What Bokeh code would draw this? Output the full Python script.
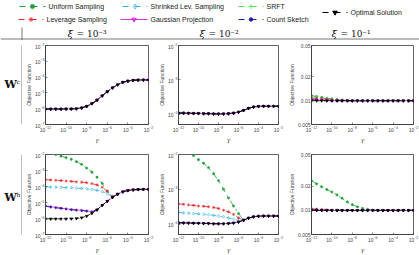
from bokeh.plotting import figure
from bokeh.layouts import column, row
from bokeh.models import Range1d, FixedTicker, CustomJSTickFormatter
from bokeh.core.properties import value
from bokeh.embed import file_html
from bokeh.resources import INLINE

# regularisation parameter gamma (x axis, log scale)
gamma = [1e-12, 3.2e-12, 1e-11, 3.2e-11, 1e-10, 3.2e-10, 1e-9, 3.2e-9, 1e-8, 3.2e-8,
         1e-7, 3.2e-7, 1e-6, 3.2e-6, 1e-5, 3.2e-5, 1e-4, 3.2e-4, 1e-3, 3.2e-3, 1e-2]
x_ticks = [1e-12, 1e-10, 1e-8, 1e-6, 1e-4, 1e-2]
col_titles = ["10⁻³", "10⁻²", "10⁻¹"]
row_titles = ["c", "h"]

# optimal objective value for each xi
opt_xi3 = [9.5e-7, 9.5e-7, 9.5e-7, 9.5e-7, 9.6e-7, 9.7e-7, 1.0e-6, 1.12e-6, 1.41e-6, 2.1e-6,
           3.5e-6, 6.6e-6, 1.2e-5, 2.1e-5, 3.3e-5, 4.7e-5, 5.6e-5, 6.2e-5, 6.5e-5, 6.6e-5, 6.6e-5]
opt_xi2 = [1.07e-4, 1.07e-4, 1.06e-4, 1.05e-4, 1.05e-4, 1.035e-4, 1.035e-4, 1.02e-4, 1.02e-4, 1.02e-4,
           1.035e-4, 1.07e-4, 1.15e-4, 1.29e-4, 1.48e-4, 1.62e-4, 1.68e-4, 1.7e-4, 1.7e-4, 1.7e-4, 1.7e-4]
opt_xi1 = [0.0100] * 21

# W^c, xi = 1e-2 / 1e-1 (xi = 1e-3 coincides with the optimum)
c2_uniform = [1.12e-4, 1.1e-4, 1.08e-4, 1.06e-4] + opt_xi2[4:]
c2_srft = [1.1e-4, 1.09e-4, 1.07e-4, 1.055e-4] + opt_xi2[4:]
c1_uniform = [0.0116, 0.0113, 0.0110, 0.0107, 0.0105, 0.0103, 0.0102, 0.0101] + opt_xi1[8:]
c1_srft = [0.0113, 0.0111, 0.0108, 0.0105, 0.0103, 0.0102, 0.0101] + opt_xi1[7:]
c1_leverage = [0.0108, 0.0107, 0.0106, 0.0104, 0.0103, 0.0102, 0.0101] + opt_xi1[7:]
c1_shrinked = [0.0105, 0.0104, 0.0103, 0.0102, 0.0101] + opt_xi1[5:]
c1_gaussian = [0.0103, 0.0102, 0.0102, 0.0101] + opt_xi1[4:]
c1_count = [0.0102, 0.0102, 0.0101] + opt_xi1[3:]

# W^h, xi = 1e-3
h3_uniform = [1.78e-2, 1.32e-2, 1.0e-2, 7.9e-3, 6.3e-3, 5.0e-3, 3.55e-3, 2.4e-3, 1.41e-3, 7.9e-4,
              3.8e-4, 1.58e-4, 5.0e-5, 2.1e-5] + opt_xi3[14:]
h3_leverage = [2.7e-4, 2.57e-4, 2.45e-4, 2.34e-4, 2.19e-4, 2.09e-4, 1.95e-4, 1.86e-4, 1.74e-4, 1.51e-4,
               1.26e-4, 8.9e-5, 5.0e-5, 2.4e-5] + opt_xi3[14:]
h3_shrinked = [9.5e-5, 9.3e-5, 9.1e-5, 8.9e-5, 8.5e-5, 8.3e-5, 7.9e-5, 7.6e-5, 7.1e-5, 6.5e-5,
               5.75e-5, 4.8e-5, 3.55e-5, 2.24e-5] + opt_xi3[14:]
h3_gaussian = [6.0e-6, 5.4e-6, 4.8e-6, 4.4e-6, 4.0e-6, 3.6e-6, 3.4e-6, 3.2e-6, 2.95e-6, 2.65e-6] + opt_xi3[10:]
h3_count = [5.8e-6, 5.2e-6, 4.7e-6, 4.3e-6, 3.9e-6, 3.55e-6, 3.3e-6, 3.1e-6, 2.9e-6, 2.6e-6] + opt_xi3[10:]
h3_srft = [6.1e-6, 5.5e-6, 4.9e-6, 4.45e-6, 4.05e-6, 3.65e-6, 3.45e-6, 3.25e-6, 3.0e-6, 2.7e-6] + opt_xi3[10:]

# W^h, xi = 1e-2
h2_uniform = [2.5e-2, 1.78e-2, 1.26e-2, 9.3e-3, 7.1e-3, 5.6e-3, 4.2e-3, 2.8e-3, 1.78e-3, 1.0e-3,
              5.6e-4, 3.3e-4, 2.0e-4, 1.3e-4] + opt_xi2[14:]
h2_leverage = [3.8e-4, 3.7e-4, 3.55e-4, 3.45e-4, 3.3e-4, 3.25e-4, 3.15e-4, 3.0e-4, 2.8e-4, 2.5e-4,
               2.25e-4, 1.9e-4, 1.5e-4, 1.29e-4] + opt_xi2[14:]
h2_shrinked = [2.15e-4, 2.1e-4, 2.05e-4, 2.0e-4, 1.95e-4, 1.9e-4, 1.85e-4, 1.78e-4, 1.7e-4, 1.62e-4,
               1.5e-4, 1.38e-4, 1.26e-4, 1.29e-4] + opt_xi2[14:]
h2_gaussian = [1.1e-4, 1.09e-4, 1.08e-4, 1.07e-4, 1.06e-4, 1.05e-4, 1.04e-4] + opt_xi2[7:]
h2_count = [1.09e-4, 1.08e-4, 1.07e-4, 1.06e-4, 1.05e-4, 1.04e-4] + opt_xi2[6:]
h2_srft = [1.11e-4, 1.1e-4, 1.09e-4, 1.08e-4, 1.07e-4, 1.05e-4, 1.04e-4] + opt_xi2[7:]

# W^h, xi = 1e-1
h1_uniform = [0.0235, 0.0215, 0.0197, 0.0182, 0.0170, 0.0156, 0.0142, 0.0128, 0.0118, 0.0111,
              0.0106, 0.0103, 0.0101] + opt_xi1[13:]
h1_leverage = [0.0105, 0.0104, 0.0103, 0.0102, 0.0101, 0.0101] + opt_xi1[6:]
h1_shrinked = [0.0102, 0.0101, 0.0101] + opt_xi1[3:]
h1_gaussian = [0.0101, 0.0101] + opt_xi1[2:]

# method name -> (colour, dash, marker, marker size, filled)
methods = {
    "Uniform Sampling": ("#1f9e3c", "dashdot", "circle", 2.2, True),
    "Shrinked Lev. Sampling": ("#2cb4e6", "dashdot", "diamond", 3, False),
    "SRFT": ("#4ee04e", "dashed", "cross", 3, False),
    "Leverage Sampling": ("#e0242a", "dashed", "asterisk", 3, False),
    "Gaussian Projection": ("#e030e0", "solid", "inverted_triangle", 2.6, True),
    "Count Sketch": ("#1c1ca8", "dashed", "circle", 1.6, True),
    "Optimal Solution": ("#000000", "4 2", "inverted_triangle", 2.8, True),
}

panels = [
    # (row, col, y range, y ticks, series)
    (0, 0, (1e-7, 1e-2), [1e-7, 1e-6, 1e-5, 1e-4, 1e-3, 1e-2],
     {m: opt_xi3 for m in methods}),
    (0, 1, (5e-5, 1e-2), [1e-4, 1e-3, 1e-2],
     {"Uniform Sampling": c2_uniform, "Shrinked Lev. Sampling": opt_xi2, "SRFT": c2_srft,
      "Leverage Sampling": opt_xi2, "Gaussian Projection": opt_xi2, "Count Sketch": opt_xi2,
      "Optimal Solution": opt_xi2}),
    (0, 2, (0.005, 0.05), [0.005, 0.01, 0.02, 0.05],
     {"Uniform Sampling": c1_uniform, "Shrinked Lev. Sampling": c1_shrinked, "SRFT": c1_srft,
      "Leverage Sampling": c1_leverage, "Gaussian Projection": c1_gaussian, "Count Sketch": c1_count,
      "Optimal Solution": opt_xi1}),
    (1, 0, (1e-7, 1e-2), [1e-7, 1e-6, 1e-5, 1e-4, 1e-3, 1e-2],
     {"Uniform Sampling": h3_uniform, "Shrinked Lev. Sampling": h3_shrinked, "SRFT": h3_srft,
      "Leverage Sampling": h3_leverage, "Gaussian Projection": h3_gaussian, "Count Sketch": h3_count,
      "Optimal Solution": opt_xi3}),
    (1, 1, (5e-5, 1e-2), [1e-4, 1e-3, 1e-2],
     {"Uniform Sampling": h2_uniform, "Shrinked Lev. Sampling": h2_shrinked, "SRFT": h2_srft,
      "Leverage Sampling": h2_leverage, "Gaussian Projection": h2_gaussian, "Count Sketch": h2_count,
      "Optimal Solution": opt_xi2}),
    (1, 2, (0.005, 0.05), [0.005, 0.01, 0.02, 0.05],
     {"Uniform Sampling": h1_uniform, "Shrinked Lev. Sampling": h1_shrinked, "SRFT": h1_gaussian,
      "Leverage Sampling": h1_leverage, "Gaussian Projection": h1_gaussian, "Count Sketch": h1_gaussian,
      "Optimal Solution": opt_xi1}),
]

SANS = "Liberation Sans"
SERIF = "DejaVu Serif"
AXIS_COLOR = "#3a3a3a"

col_widths = [(133, 18, 7), (130, 17, 7), (134, 19, 6)]
row_heights = [(105, 5, 13), (110, 9, 13)]


def blank(width, height, x_end, y_start):
    p = figure(width=width, height=height, x_range=Range1d(0, x_end), y_range=Range1d(y_start, 0),
               x_axis_location=None, y_axis_location=None, output_backend="svg",
               toolbar_location=None, min_border=0, outline_line_color=None)
    p.grid.visible = False
    return p


def make_panel(r, c, yr, yticks, series):
    w, bl, br = col_widths[c]
    h, bt, bb = row_heights[r]
    p = figure(width=w, height=h, x_axis_type="log", y_axis_type="log",
               x_range=Range1d(1e-12, 1e-2), y_range=Range1d(*yr),
               output_backend="svg", toolbar_location=None,
               min_border_left=bl, min_border_right=br, min_border_top=bt, min_border_bottom=bb)
    p.grid.visible = False
    p.outline_line_color = AXIS_COLOR
    p.outline_line_width = 0.8
    p.xaxis.ticker = FixedTicker(ticks=x_ticks)
    p.yaxis.ticker = FixedTicker(ticks=yticks)
    if yticks[0] == 0.005:
        p.yaxis.formatter = CustomJSTickFormatter(code="return tick.toString()")
    for ax in (p.xaxis, p.yaxis):
        ax.axis_line_color = AXIS_COLOR
        ax.axis_line_width = 0.8
        ax.major_tick_line_color = AXIS_COLOR
        ax.major_tick_line_width = 0.6
        ax.major_tick_in = 2
        ax.major_tick_out = 0
        ax.minor_tick_in = 0
        ax.minor_tick_out = 0
        ax.major_label_text_font = SANS
        ax.major_label_text_font_size = "5px"
        ax.major_label_text_color = "#444444"
        ax.major_label_standoff = 1
        ax.axis_label_standoff = 1
    p.xaxis.axis_label = "γ"
    p.xaxis.axis_label_text_font = SERIF
    p.xaxis.axis_label_text_font_size = "6px"
    p.xaxis.axis_label_text_font_style = "italic"
    p.xaxis.axis_label_text_color = "#444444"
    p.yaxis.axis_label = "Objective Function"
    p.yaxis.axis_label_text_font = SANS
    p.yaxis.axis_label_text_font_size = "5px"
    p.yaxis.axis_label_text_font_style = "normal"
    p.yaxis.axis_label_text_color = "#444444"
    p.yaxis.axis_label_standoff = 0

    for name, (color, dash, marker, size, filled) in methods.items():
        vals = series[name]
        p.line(gamma, vals, line_color=color, line_width=0.8, line_dash=dash)
        p.scatter(gamma, vals, marker=marker, size=size, line_color=color, line_width=0.6,
                  fill_color=color if filled else None)
    return p


# header: legend, column titles and table rules
header = blank(419, 40, 419, 40)
legend_items = [
    ("Uniform Sampling", 19, 45, 6),
    ("Shrinked Lev. Sampling", 122, 147, 6),
    ("SRFT", 238, 263, 6),
    ("Leverage Sampling", 18, 43, 19),
    ("Gaussian Projection", 120, 147, 19),
    ("Count Sketch", 238, 263, 19),
    ("Optimal Solution", 322, 347, 12),
]
for name, x0, x1, yy in legend_items:
    color, dash, marker, size, filled = methods[name]
    header.line([x0, x1], [yy, yy], line_color=color, line_width=1,
                line_dash="dashed" if dash != "solid" else dash)
    header.scatter([(x0 + x1) / 2], [yy], marker=marker, size=size + 2, line_color=color,
                   line_width=0.8, fill_color=color if filled else None)
    header.text([x1 + 3], [yy], text=[name], text_font=value(SANS), text_font_size="7px",
                text_baseline="middle", text_align="left", text_color="#222222")

for xi_x, eq_x, t in zip([67, 199, 331], [76, 208, 340], col_titles):
    header.text([xi_x], [33], text=["ξ"], text_font=value(SERIF), text_font_size="10px",
                text_font_style="italic", text_baseline="middle", text_color="#111111")
    header.text([eq_x], [33], text=["= " + t], text_font=value(SERIF), text_font_size="9px",
                text_baseline="middle", text_color="#111111")
header.line([0, 419], [38.5, 38.5], line_color="#555555", line_width=0.8)
header.line([21.5, 21.5], [27, 40], line_color="#555555", line_width=0.8)

rows = []
for r, (h, bt, bb) in enumerate(row_heights):
    lab = blank(22, h, 22, h)
    lab.line([21.5, 21.5], [0, h], line_color="#555555", line_width=0.8)
    wy = 52 if r == 0 else 59
    lab.text([4], [wy], text=["W"], text_font=value(SERIF), text_font_size="11px",
             text_font_style="bold", text_baseline="middle", text_color="#111111")
    lab.text([16], [wy - 4], text=[row_titles[r]], text_font=value(SERIF), text_font_size="6px",
             text_baseline="middle", text_color="#111111")
    figs = [lab]
    for (pr, pc, yr, yticks, series) in panels:
        if pr == r:
            figs.append(make_panel(pr, pc, yr, yticks, series))
    rows.append(row(*figs))

layout = column(header, *rows)
open("out.html", "w").write(file_html(layout, INLINE))
